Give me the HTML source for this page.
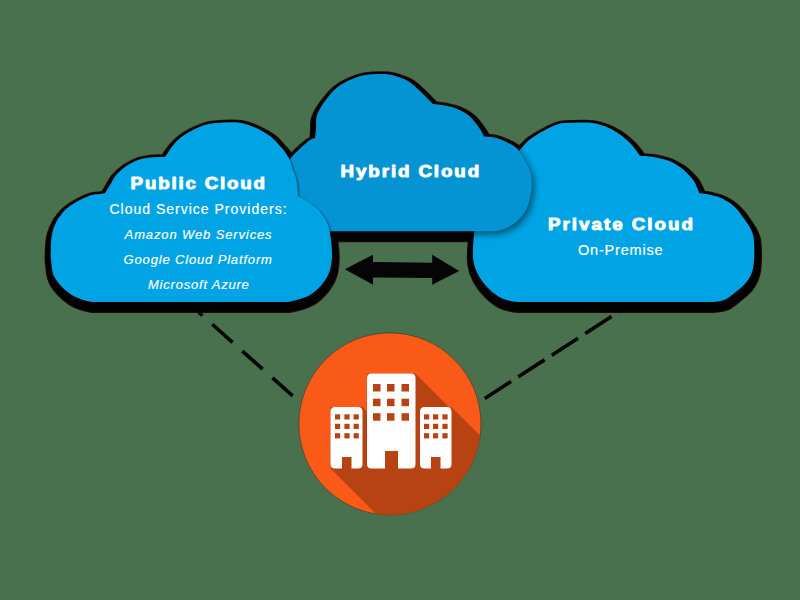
<!DOCTYPE html>
<html><head><meta charset="utf-8"><style>
html,body{margin:0;padding:0;background:#49714e;width:800px;height:600px;overflow:hidden}
svg{display:block}
text{font-family:"Liberation Sans",sans-serif;fill:#fff}
</style></head><body>
<svg width="800" height="600" viewBox="0 0 800 600">
<defs>
<filter id="blur" x="-20%" y="-20%" width="140%" height="140%"><feGaussianBlur stdDeviation="3.5"/></filter>
<filter id="blur2" x="-20%" y="-20%" width="140%" height="140%"><feGaussianBlur stdDeviation="1.2"/></filter>
<clipPath id="clipH"><path d="M300.00 231.00 C297.50 228.33 288.67 221.00 285.00 215.00 C281.33 209.00 278.67 201.67 278.00 195.00 C277.33 188.33 279.08 180.83 281.00 175.00 C282.92 169.17 286.33 164.42 289.50 160.00 C292.67 155.58 296.58 151.83 300.00 148.50 C303.42 145.17 307.50 141.70 310.00 140.00 C312.50 138.30 314.17 138.58 315.00 138.30 C315.17 136.67 315.67 132.38 316.00 128.50 C316.33 124.62 315.50 119.58 317.00 115.00 C318.50 110.42 321.67 105.58 325.00 101.00 C328.33 96.42 332.67 91.08 337.00 87.50 C341.33 83.92 346.33 81.58 351.00 79.50 C355.67 77.42 360.17 75.92 365.00 75.00 C369.83 74.08 375.50 74.00 380.00 74.00 C384.50 74.00 387.33 73.83 392.00 75.00 C396.67 76.17 403.33 78.33 408.00 81.00 C412.67 83.67 416.33 87.67 420.00 91.00 C423.67 94.33 427.83 98.83 430.00 101.00 C432.17 103.17 432.50 103.50 433.00 104.00 C435.00 104.25 440.92 104.67 445.00 105.50 C449.08 106.33 453.33 107.17 457.50 109.00 C461.67 110.83 466.25 113.17 470.00 116.50 C473.75 119.83 477.67 125.67 480.00 129.00 C482.33 132.33 483.33 135.25 484.00 136.50 C485.83 136.67 491.08 136.50 495.00 137.50 C498.92 138.50 503.75 140.58 507.50 142.50 C511.25 144.42 514.58 145.92 517.50 149.00 C520.42 152.08 522.83 157.00 525.00 161.00 C527.17 165.00 529.38 169.00 530.50 173.00 C531.62 177.00 531.78 180.83 531.70 185.00 C531.62 189.17 531.03 193.67 530.00 198.00 C528.97 202.33 528.00 206.83 525.50 211.00 C523.00 215.17 519.25 219.80 515.00 223.00 C510.75 226.20 505.00 228.83 500.00 230.20 C495.00 231.57 490.83 231.03 485.00 231.20 C454.17 231.20 330.83 231.20 300.00 231.20 Z"/></clipPath>
<clipPath id="clipR"><path d="M515.00 159.00 C515.77 157.58 517.20 153.72 519.60 150.50 C522.00 147.28 525.60 142.87 529.40 139.70 C533.20 136.53 537.70 134.08 542.40 131.50 C547.10 128.92 552.55 125.65 557.60 124.20 C562.65 122.75 567.30 123.03 572.70 122.80 C578.10 122.57 585.45 122.47 590.00 122.80 C594.55 123.12 596.67 123.80 600.00 124.75 C603.33 125.70 606.67 126.88 610.00 128.50 C613.33 130.12 616.67 132.08 620.00 134.50 C623.33 136.92 627.50 140.58 630.00 143.00 C632.50 145.42 633.33 146.87 635.00 149.00 C636.67 151.13 639.17 154.67 640.00 155.80 C642.22 156.00 648.42 156.13 653.30 157.00 C658.18 157.87 664.85 159.33 669.30 161.00 C673.75 162.67 677.10 165.05 680.00 167.00 C682.90 168.95 684.48 170.53 686.70 172.70 C688.92 174.87 691.53 177.45 693.30 180.00 C695.07 182.55 696.30 185.78 697.30 188.00 C698.30 190.22 698.97 192.42 699.30 193.30 C700.53 193.42 704.42 193.63 706.70 194.00 C708.98 194.37 710.78 194.92 713.00 195.50 C715.22 196.08 717.17 196.25 720.00 197.50 C722.83 198.75 727.00 200.83 730.00 203.00 C733.00 205.17 735.50 207.67 738.00 210.50 C740.50 213.33 742.92 217.00 745.00 220.00 C747.08 223.00 749.12 225.83 750.50 228.50 C751.88 231.17 752.68 233.25 753.30 236.00 C753.92 238.75 754.05 241.33 754.20 245.00 C754.35 248.67 754.45 253.83 754.20 258.00 C753.95 262.17 753.62 266.50 752.70 270.00 C751.78 273.50 750.27 276.42 748.70 279.00 C747.13 281.58 745.58 283.25 743.30 285.50 C741.02 287.75 738.10 290.12 735.00 292.50 C731.90 294.88 728.53 298.22 724.70 299.80 C720.87 301.38 717.45 301.63 712.00 302.00 C679.67 302.00 550.33 302.00 518.00 302.00 C511.95 301.38 506.65 300.58 501.70 298.30 C496.75 296.02 492.20 292.18 488.30 288.30 C484.40 284.42 480.80 279.72 478.30 275.00 C475.80 270.28 474.10 265.83 473.30 260.00 C472.50 254.17 473.05 245.83 473.50 240.00 C473.95 234.17 474.42 229.50 476.00 225.00 C477.58 220.50 479.33 216.67 483.00 213.00 C486.67 209.33 494.33 205.83 498.00 203.00 C501.67 200.17 503.83 197.17 505.00 196.00 C505.17 195.33 505.50 194.67 506.00 192.00 C506.50 189.33 507.00 184.00 508.00 180.00 C509.00 176.00 510.83 171.50 512.00 168.00 C513.17 164.50 514.50 160.50 515.00 159.00 Z"/></clipPath>
<clipPath id="clipC"><circle cx="389.9" cy="423.9" r="91"/></clipPath>
</defs>
<rect width="800" height="600" fill="#49714e"/>
<!-- dashed lines -->
<g stroke="#040302" stroke-width="3.6" stroke-linecap="butt" fill="none">
<line x1="182.15" y1="297.43" x2="202.40" y2="315.47"/>
<line x1="212.25" y1="324.25" x2="232.50" y2="342.29"/>
<line x1="242.35" y1="351.07" x2="262.60" y2="369.11"/>
<line x1="272.45" y1="377.89" x2="292.70" y2="395.93"/>
<line x1="484.75" y1="398.50" x2="511.05" y2="381.51"/>
<line x1="518.25" y1="376.86" x2="544.55" y2="359.87"/>
<line x1="551.75" y1="355.22" x2="578.05" y2="338.23"/>
<line x1="585.25" y1="333.58" x2="611.55" y2="316.59"/>
<line x1="618.75" y1="311.94" x2="645.05" y2="294.95"/>
</g>
<!-- bands -->
<g fill="#1e0b05" stroke="#1e0b05" stroke-width="13.8" stroke-linejoin="round" transform="translate(0.8 4.1)">
<path d="M515.00 159.00 C515.77 157.58 517.20 153.72 519.60 150.50 C522.00 147.28 525.60 142.87 529.40 139.70 C533.20 136.53 537.70 134.08 542.40 131.50 C547.10 128.92 552.55 125.65 557.60 124.20 C562.65 122.75 567.30 123.03 572.70 122.80 C578.10 122.57 585.45 122.47 590.00 122.80 C594.55 123.12 596.67 123.80 600.00 124.75 C603.33 125.70 606.67 126.88 610.00 128.50 C613.33 130.12 616.67 132.08 620.00 134.50 C623.33 136.92 627.50 140.58 630.00 143.00 C632.50 145.42 633.33 146.87 635.00 149.00 C636.67 151.13 639.17 154.67 640.00 155.80 C642.22 156.00 648.42 156.13 653.30 157.00 C658.18 157.87 664.85 159.33 669.30 161.00 C673.75 162.67 677.10 165.05 680.00 167.00 C682.90 168.95 684.48 170.53 686.70 172.70 C688.92 174.87 691.53 177.45 693.30 180.00 C695.07 182.55 696.30 185.78 697.30 188.00 C698.30 190.22 698.97 192.42 699.30 193.30 C700.53 193.42 704.42 193.63 706.70 194.00 C708.98 194.37 710.78 194.92 713.00 195.50 C715.22 196.08 717.17 196.25 720.00 197.50 C722.83 198.75 727.00 200.83 730.00 203.00 C733.00 205.17 735.50 207.67 738.00 210.50 C740.50 213.33 742.92 217.00 745.00 220.00 C747.08 223.00 749.12 225.83 750.50 228.50 C751.88 231.17 752.68 233.25 753.30 236.00 C753.92 238.75 754.05 241.33 754.20 245.00 C754.35 248.67 754.45 253.83 754.20 258.00 C753.95 262.17 753.62 266.50 752.70 270.00 C751.78 273.50 750.27 276.42 748.70 279.00 C747.13 281.58 745.58 283.25 743.30 285.50 C741.02 287.75 738.10 290.12 735.00 292.50 C731.90 294.88 728.53 298.22 724.70 299.80 C720.87 301.38 717.45 301.63 712.00 302.00 C679.67 302.00 550.33 302.00 518.00 302.00 C511.95 301.38 506.65 300.58 501.70 298.30 C496.75 296.02 492.20 292.18 488.30 288.30 C484.40 284.42 480.80 279.72 478.30 275.00 C475.80 270.28 474.10 265.83 473.30 260.00 C472.50 254.17 473.05 245.83 473.50 240.00 C473.95 234.17 474.42 229.50 476.00 225.00 C477.58 220.50 479.33 216.67 483.00 213.00 C486.67 209.33 494.33 205.83 498.00 203.00 C501.67 200.17 503.83 197.17 505.00 196.00 C505.17 195.33 505.50 194.67 506.00 192.00 C506.50 189.33 507.00 184.00 508.00 180.00 C509.00 176.00 510.83 171.50 512.00 168.00 C513.17 164.50 514.50 160.50 515.00 159.00 Z"/><path d="M300.00 231.00 C297.50 228.33 288.67 221.00 285.00 215.00 C281.33 209.00 278.67 201.67 278.00 195.00 C277.33 188.33 279.08 180.83 281.00 175.00 C282.92 169.17 286.33 164.42 289.50 160.00 C292.67 155.58 296.58 151.83 300.00 148.50 C303.42 145.17 307.50 141.70 310.00 140.00 C312.50 138.30 314.17 138.58 315.00 138.30 C315.17 136.67 315.67 132.38 316.00 128.50 C316.33 124.62 315.50 119.58 317.00 115.00 C318.50 110.42 321.67 105.58 325.00 101.00 C328.33 96.42 332.67 91.08 337.00 87.50 C341.33 83.92 346.33 81.58 351.00 79.50 C355.67 77.42 360.17 75.92 365.00 75.00 C369.83 74.08 375.50 74.00 380.00 74.00 C384.50 74.00 387.33 73.83 392.00 75.00 C396.67 76.17 403.33 78.33 408.00 81.00 C412.67 83.67 416.33 87.67 420.00 91.00 C423.67 94.33 427.83 98.83 430.00 101.00 C432.17 103.17 432.50 103.50 433.00 104.00 C435.00 104.25 440.92 104.67 445.00 105.50 C449.08 106.33 453.33 107.17 457.50 109.00 C461.67 110.83 466.25 113.17 470.00 116.50 C473.75 119.83 477.67 125.67 480.00 129.00 C482.33 132.33 483.33 135.25 484.00 136.50 C485.83 136.67 491.08 136.50 495.00 137.50 C498.92 138.50 503.75 140.58 507.50 142.50 C511.25 144.42 514.58 145.92 517.50 149.00 C520.42 152.08 522.83 157.00 525.00 161.00 C527.17 165.00 529.38 169.00 530.50 173.00 C531.62 177.00 531.78 180.83 531.70 185.00 C531.62 189.17 531.03 193.67 530.00 198.00 C528.97 202.33 528.00 206.83 525.50 211.00 C523.00 215.17 519.25 219.80 515.00 223.00 C510.75 226.20 505.00 228.83 500.00 230.20 C495.00 231.57 490.83 231.03 485.00 231.20 C454.17 231.20 330.83 231.20 300.00 231.20 Z"/><path d="M105.00 193.30 C105.83 191.92 108.20 187.97 110.00 185.00 C111.80 182.03 113.43 178.42 115.80 175.50 C118.17 172.58 121.42 169.67 124.20 167.50 C126.98 165.33 129.87 163.87 132.50 162.50 C135.13 161.13 137.08 160.13 140.00 159.30 C142.92 158.47 146.67 157.88 150.00 157.50 C153.33 157.12 157.50 157.08 160.00 157.00 C162.50 156.92 164.17 157.00 165.00 157.00 C165.83 155.75 168.33 151.83 170.00 149.50 C171.67 147.17 173.00 145.17 175.00 143.00 C177.00 140.83 179.50 138.42 182.00 136.50 C184.50 134.58 187.00 133.12 190.00 131.50 C193.00 129.88 196.67 128.05 200.00 126.75 C203.33 125.45 206.17 124.41 210.00 123.70 C213.83 122.99 218.00 122.65 223.00 122.50 C228.00 122.35 234.67 121.95 240.00 122.80 C245.33 123.65 250.00 125.40 255.00 127.60 C260.00 129.80 266.00 133.10 270.00 136.00 C274.00 138.90 276.50 142.33 279.00 145.00 C281.50 147.67 283.17 149.50 285.00 152.00 C286.83 154.50 289.17 158.67 290.00 160.00 C290.50 161.67 292.00 167.00 293.00 170.00 C294.00 173.00 295.25 175.00 296.00 178.00 C296.75 181.00 297.17 185.00 297.50 188.00 C297.83 191.00 297.92 194.67 298.00 196.00 C299.17 196.67 302.17 198.17 305.00 200.00 C307.83 201.83 312.33 204.83 315.00 207.00 C317.67 209.17 319.00 210.50 321.00 213.00 C323.00 215.50 325.50 218.67 327.00 222.00 C328.50 225.33 329.17 227.83 330.00 233.00 C330.83 238.17 332.00 246.83 332.00 253.00 C332.00 259.17 331.50 265.00 330.00 270.00 C328.50 275.00 326.33 278.83 323.00 283.00 C319.67 287.17 315.83 291.83 310.00 295.00 C304.17 298.17 295.00 300.83 288.00 302.00 C255.33 302.00 124.67 302.00 92.00 302.00 C85.28 300.83 77.87 299.00 71.70 295.00 C65.53 291.00 58.45 283.83 55.00 278.00 C51.55 272.17 51.70 264.67 51.00 260.00 C50.30 255.33 50.77 253.33 50.80 250.00 C50.83 246.67 50.83 243.33 51.20 240.00 C51.57 236.67 51.98 233.33 53.00 230.00 C54.02 226.67 56.05 222.42 57.30 220.00 C58.55 217.58 59.05 217.33 60.50 215.50 C61.95 213.67 63.58 211.13 66.00 209.00 C68.42 206.87 71.00 204.95 75.00 202.70 C79.00 200.45 85.83 196.95 90.00 195.50 C94.17 194.05 97.50 194.37 100.00 194.00 C102.50 193.63 104.17 193.42 105.00 193.30 Z"/>
</g>
<g fill="#030202" stroke="#030202" stroke-width="11.6" stroke-linejoin="round" transform="translate(0.8 4.1)">
<path d="M515.00 159.00 C515.77 157.58 517.20 153.72 519.60 150.50 C522.00 147.28 525.60 142.87 529.40 139.70 C533.20 136.53 537.70 134.08 542.40 131.50 C547.10 128.92 552.55 125.65 557.60 124.20 C562.65 122.75 567.30 123.03 572.70 122.80 C578.10 122.57 585.45 122.47 590.00 122.80 C594.55 123.12 596.67 123.80 600.00 124.75 C603.33 125.70 606.67 126.88 610.00 128.50 C613.33 130.12 616.67 132.08 620.00 134.50 C623.33 136.92 627.50 140.58 630.00 143.00 C632.50 145.42 633.33 146.87 635.00 149.00 C636.67 151.13 639.17 154.67 640.00 155.80 C642.22 156.00 648.42 156.13 653.30 157.00 C658.18 157.87 664.85 159.33 669.30 161.00 C673.75 162.67 677.10 165.05 680.00 167.00 C682.90 168.95 684.48 170.53 686.70 172.70 C688.92 174.87 691.53 177.45 693.30 180.00 C695.07 182.55 696.30 185.78 697.30 188.00 C698.30 190.22 698.97 192.42 699.30 193.30 C700.53 193.42 704.42 193.63 706.70 194.00 C708.98 194.37 710.78 194.92 713.00 195.50 C715.22 196.08 717.17 196.25 720.00 197.50 C722.83 198.75 727.00 200.83 730.00 203.00 C733.00 205.17 735.50 207.67 738.00 210.50 C740.50 213.33 742.92 217.00 745.00 220.00 C747.08 223.00 749.12 225.83 750.50 228.50 C751.88 231.17 752.68 233.25 753.30 236.00 C753.92 238.75 754.05 241.33 754.20 245.00 C754.35 248.67 754.45 253.83 754.20 258.00 C753.95 262.17 753.62 266.50 752.70 270.00 C751.78 273.50 750.27 276.42 748.70 279.00 C747.13 281.58 745.58 283.25 743.30 285.50 C741.02 287.75 738.10 290.12 735.00 292.50 C731.90 294.88 728.53 298.22 724.70 299.80 C720.87 301.38 717.45 301.63 712.00 302.00 C679.67 302.00 550.33 302.00 518.00 302.00 C511.95 301.38 506.65 300.58 501.70 298.30 C496.75 296.02 492.20 292.18 488.30 288.30 C484.40 284.42 480.80 279.72 478.30 275.00 C475.80 270.28 474.10 265.83 473.30 260.00 C472.50 254.17 473.05 245.83 473.50 240.00 C473.95 234.17 474.42 229.50 476.00 225.00 C477.58 220.50 479.33 216.67 483.00 213.00 C486.67 209.33 494.33 205.83 498.00 203.00 C501.67 200.17 503.83 197.17 505.00 196.00 C505.17 195.33 505.50 194.67 506.00 192.00 C506.50 189.33 507.00 184.00 508.00 180.00 C509.00 176.00 510.83 171.50 512.00 168.00 C513.17 164.50 514.50 160.50 515.00 159.00 Z"/><path d="M300.00 231.00 C297.50 228.33 288.67 221.00 285.00 215.00 C281.33 209.00 278.67 201.67 278.00 195.00 C277.33 188.33 279.08 180.83 281.00 175.00 C282.92 169.17 286.33 164.42 289.50 160.00 C292.67 155.58 296.58 151.83 300.00 148.50 C303.42 145.17 307.50 141.70 310.00 140.00 C312.50 138.30 314.17 138.58 315.00 138.30 C315.17 136.67 315.67 132.38 316.00 128.50 C316.33 124.62 315.50 119.58 317.00 115.00 C318.50 110.42 321.67 105.58 325.00 101.00 C328.33 96.42 332.67 91.08 337.00 87.50 C341.33 83.92 346.33 81.58 351.00 79.50 C355.67 77.42 360.17 75.92 365.00 75.00 C369.83 74.08 375.50 74.00 380.00 74.00 C384.50 74.00 387.33 73.83 392.00 75.00 C396.67 76.17 403.33 78.33 408.00 81.00 C412.67 83.67 416.33 87.67 420.00 91.00 C423.67 94.33 427.83 98.83 430.00 101.00 C432.17 103.17 432.50 103.50 433.00 104.00 C435.00 104.25 440.92 104.67 445.00 105.50 C449.08 106.33 453.33 107.17 457.50 109.00 C461.67 110.83 466.25 113.17 470.00 116.50 C473.75 119.83 477.67 125.67 480.00 129.00 C482.33 132.33 483.33 135.25 484.00 136.50 C485.83 136.67 491.08 136.50 495.00 137.50 C498.92 138.50 503.75 140.58 507.50 142.50 C511.25 144.42 514.58 145.92 517.50 149.00 C520.42 152.08 522.83 157.00 525.00 161.00 C527.17 165.00 529.38 169.00 530.50 173.00 C531.62 177.00 531.78 180.83 531.70 185.00 C531.62 189.17 531.03 193.67 530.00 198.00 C528.97 202.33 528.00 206.83 525.50 211.00 C523.00 215.17 519.25 219.80 515.00 223.00 C510.75 226.20 505.00 228.83 500.00 230.20 C495.00 231.57 490.83 231.03 485.00 231.20 C454.17 231.20 330.83 231.20 300.00 231.20 Z"/><path d="M105.00 193.30 C105.83 191.92 108.20 187.97 110.00 185.00 C111.80 182.03 113.43 178.42 115.80 175.50 C118.17 172.58 121.42 169.67 124.20 167.50 C126.98 165.33 129.87 163.87 132.50 162.50 C135.13 161.13 137.08 160.13 140.00 159.30 C142.92 158.47 146.67 157.88 150.00 157.50 C153.33 157.12 157.50 157.08 160.00 157.00 C162.50 156.92 164.17 157.00 165.00 157.00 C165.83 155.75 168.33 151.83 170.00 149.50 C171.67 147.17 173.00 145.17 175.00 143.00 C177.00 140.83 179.50 138.42 182.00 136.50 C184.50 134.58 187.00 133.12 190.00 131.50 C193.00 129.88 196.67 128.05 200.00 126.75 C203.33 125.45 206.17 124.41 210.00 123.70 C213.83 122.99 218.00 122.65 223.00 122.50 C228.00 122.35 234.67 121.95 240.00 122.80 C245.33 123.65 250.00 125.40 255.00 127.60 C260.00 129.80 266.00 133.10 270.00 136.00 C274.00 138.90 276.50 142.33 279.00 145.00 C281.50 147.67 283.17 149.50 285.00 152.00 C286.83 154.50 289.17 158.67 290.00 160.00 C290.50 161.67 292.00 167.00 293.00 170.00 C294.00 173.00 295.25 175.00 296.00 178.00 C296.75 181.00 297.17 185.00 297.50 188.00 C297.83 191.00 297.92 194.67 298.00 196.00 C299.17 196.67 302.17 198.17 305.00 200.00 C307.83 201.83 312.33 204.83 315.00 207.00 C317.67 209.17 319.00 210.50 321.00 213.00 C323.00 215.50 325.50 218.67 327.00 222.00 C328.50 225.33 329.17 227.83 330.00 233.00 C330.83 238.17 332.00 246.83 332.00 253.00 C332.00 259.17 331.50 265.00 330.00 270.00 C328.50 275.00 326.33 278.83 323.00 283.00 C319.67 287.17 315.83 291.83 310.00 295.00 C304.17 298.17 295.00 300.83 288.00 302.00 C255.33 302.00 124.67 302.00 92.00 302.00 C85.28 300.83 77.87 299.00 71.70 295.00 C65.53 291.00 58.45 283.83 55.00 278.00 C51.55 272.17 51.70 264.67 51.00 260.00 C50.30 255.33 50.77 253.33 50.80 250.00 C50.83 246.67 50.83 243.33 51.20 240.00 C51.57 236.67 51.98 233.33 53.00 230.00 C54.02 226.67 56.05 222.42 57.30 220.00 C58.55 217.58 59.05 217.33 60.50 215.50 C61.95 213.67 63.58 211.13 66.00 209.00 C68.42 206.87 71.00 204.95 75.00 202.70 C79.00 200.45 85.83 196.95 90.00 195.50 C94.17 194.05 97.50 194.37 100.00 194.00 C102.50 193.63 104.17 193.42 105.00 193.30 Z"/>
</g>
<!-- right cloud -->
<path d="M515.00 159.00 C515.77 157.58 517.20 153.72 519.60 150.50 C522.00 147.28 525.60 142.87 529.40 139.70 C533.20 136.53 537.70 134.08 542.40 131.50 C547.10 128.92 552.55 125.65 557.60 124.20 C562.65 122.75 567.30 123.03 572.70 122.80 C578.10 122.57 585.45 122.47 590.00 122.80 C594.55 123.12 596.67 123.80 600.00 124.75 C603.33 125.70 606.67 126.88 610.00 128.50 C613.33 130.12 616.67 132.08 620.00 134.50 C623.33 136.92 627.50 140.58 630.00 143.00 C632.50 145.42 633.33 146.87 635.00 149.00 C636.67 151.13 639.17 154.67 640.00 155.80 C642.22 156.00 648.42 156.13 653.30 157.00 C658.18 157.87 664.85 159.33 669.30 161.00 C673.75 162.67 677.10 165.05 680.00 167.00 C682.90 168.95 684.48 170.53 686.70 172.70 C688.92 174.87 691.53 177.45 693.30 180.00 C695.07 182.55 696.30 185.78 697.30 188.00 C698.30 190.22 698.97 192.42 699.30 193.30 C700.53 193.42 704.42 193.63 706.70 194.00 C708.98 194.37 710.78 194.92 713.00 195.50 C715.22 196.08 717.17 196.25 720.00 197.50 C722.83 198.75 727.00 200.83 730.00 203.00 C733.00 205.17 735.50 207.67 738.00 210.50 C740.50 213.33 742.92 217.00 745.00 220.00 C747.08 223.00 749.12 225.83 750.50 228.50 C751.88 231.17 752.68 233.25 753.30 236.00 C753.92 238.75 754.05 241.33 754.20 245.00 C754.35 248.67 754.45 253.83 754.20 258.00 C753.95 262.17 753.62 266.50 752.70 270.00 C751.78 273.50 750.27 276.42 748.70 279.00 C747.13 281.58 745.58 283.25 743.30 285.50 C741.02 287.75 738.10 290.12 735.00 292.50 C731.90 294.88 728.53 298.22 724.70 299.80 C720.87 301.38 717.45 301.63 712.00 302.00 C679.67 302.00 550.33 302.00 518.00 302.00 C511.95 301.38 506.65 300.58 501.70 298.30 C496.75 296.02 492.20 292.18 488.30 288.30 C484.40 284.42 480.80 279.72 478.30 275.00 C475.80 270.28 474.10 265.83 473.30 260.00 C472.50 254.17 473.05 245.83 473.50 240.00 C473.95 234.17 474.42 229.50 476.00 225.00 C477.58 220.50 479.33 216.67 483.00 213.00 C486.67 209.33 494.33 205.83 498.00 203.00 C501.67 200.17 503.83 197.17 505.00 196.00 C505.17 195.33 505.50 194.67 506.00 192.00 C506.50 189.33 507.00 184.00 508.00 180.00 C509.00 176.00 510.83 171.50 512.00 168.00 C513.17 164.50 514.50 160.50 515.00 159.00 Z" fill="#00a4e5"/>
<!-- hybrid soft shadow on right cloud -->
<g clip-path="url(#clipR)"><path d="M300.00 231.00 C297.50 228.33 288.67 221.00 285.00 215.00 C281.33 209.00 278.67 201.67 278.00 195.00 C277.33 188.33 279.08 180.83 281.00 175.00 C282.92 169.17 286.33 164.42 289.50 160.00 C292.67 155.58 296.58 151.83 300.00 148.50 C303.42 145.17 307.50 141.70 310.00 140.00 C312.50 138.30 314.17 138.58 315.00 138.30 C315.17 136.67 315.67 132.38 316.00 128.50 C316.33 124.62 315.50 119.58 317.00 115.00 C318.50 110.42 321.67 105.58 325.00 101.00 C328.33 96.42 332.67 91.08 337.00 87.50 C341.33 83.92 346.33 81.58 351.00 79.50 C355.67 77.42 360.17 75.92 365.00 75.00 C369.83 74.08 375.50 74.00 380.00 74.00 C384.50 74.00 387.33 73.83 392.00 75.00 C396.67 76.17 403.33 78.33 408.00 81.00 C412.67 83.67 416.33 87.67 420.00 91.00 C423.67 94.33 427.83 98.83 430.00 101.00 C432.17 103.17 432.50 103.50 433.00 104.00 C435.00 104.25 440.92 104.67 445.00 105.50 C449.08 106.33 453.33 107.17 457.50 109.00 C461.67 110.83 466.25 113.17 470.00 116.50 C473.75 119.83 477.67 125.67 480.00 129.00 C482.33 132.33 483.33 135.25 484.00 136.50 C485.83 136.67 491.08 136.50 495.00 137.50 C498.92 138.50 503.75 140.58 507.50 142.50 C511.25 144.42 514.58 145.92 517.50 149.00 C520.42 152.08 522.83 157.00 525.00 161.00 C527.17 165.00 529.38 169.00 530.50 173.00 C531.62 177.00 531.78 180.83 531.70 185.00 C531.62 189.17 531.03 193.67 530.00 198.00 C528.97 202.33 528.00 206.83 525.50 211.00 C523.00 215.17 519.25 219.80 515.00 223.00 C510.75 226.20 505.00 228.83 500.00 230.20 C495.00 231.57 490.83 231.03 485.00 231.20 C454.17 231.20 330.83 231.20 300.00 231.20 Z" fill="#000" opacity="0.5" filter="url(#blur)" transform="translate(2.5 3)"/></g>
<path d="M300.00 231.00 C297.50 228.33 288.67 221.00 285.00 215.00 C281.33 209.00 278.67 201.67 278.00 195.00 C277.33 188.33 279.08 180.83 281.00 175.00 C282.92 169.17 286.33 164.42 289.50 160.00 C292.67 155.58 296.58 151.83 300.00 148.50 C303.42 145.17 307.50 141.70 310.00 140.00 C312.50 138.30 314.17 138.58 315.00 138.30 C315.17 136.67 315.67 132.38 316.00 128.50 C316.33 124.62 315.50 119.58 317.00 115.00 C318.50 110.42 321.67 105.58 325.00 101.00 C328.33 96.42 332.67 91.08 337.00 87.50 C341.33 83.92 346.33 81.58 351.00 79.50 C355.67 77.42 360.17 75.92 365.00 75.00 C369.83 74.08 375.50 74.00 380.00 74.00 C384.50 74.00 387.33 73.83 392.00 75.00 C396.67 76.17 403.33 78.33 408.00 81.00 C412.67 83.67 416.33 87.67 420.00 91.00 C423.67 94.33 427.83 98.83 430.00 101.00 C432.17 103.17 432.50 103.50 433.00 104.00 C435.00 104.25 440.92 104.67 445.00 105.50 C449.08 106.33 453.33 107.17 457.50 109.00 C461.67 110.83 466.25 113.17 470.00 116.50 C473.75 119.83 477.67 125.67 480.00 129.00 C482.33 132.33 483.33 135.25 484.00 136.50 C485.83 136.67 491.08 136.50 495.00 137.50 C498.92 138.50 503.75 140.58 507.50 142.50 C511.25 144.42 514.58 145.92 517.50 149.00 C520.42 152.08 522.83 157.00 525.00 161.00 C527.17 165.00 529.38 169.00 530.50 173.00 C531.62 177.00 531.78 180.83 531.70 185.00 C531.62 189.17 531.03 193.67 530.00 198.00 C528.97 202.33 528.00 206.83 525.50 211.00 C523.00 215.17 519.25 219.80 515.00 223.00 C510.75 226.20 505.00 228.83 500.00 230.20 C495.00 231.57 490.83 231.03 485.00 231.20 C454.17 231.20 330.83 231.20 300.00 231.20 Z" fill="#0594d3"/>
<g clip-path="url(#clipH)"><path d="M105.00 193.30 C105.83 191.92 108.20 187.97 110.00 185.00 C111.80 182.03 113.43 178.42 115.80 175.50 C118.17 172.58 121.42 169.67 124.20 167.50 C126.98 165.33 129.87 163.87 132.50 162.50 C135.13 161.13 137.08 160.13 140.00 159.30 C142.92 158.47 146.67 157.88 150.00 157.50 C153.33 157.12 157.50 157.08 160.00 157.00 C162.50 156.92 164.17 157.00 165.00 157.00 C165.83 155.75 168.33 151.83 170.00 149.50 C171.67 147.17 173.00 145.17 175.00 143.00 C177.00 140.83 179.50 138.42 182.00 136.50 C184.50 134.58 187.00 133.12 190.00 131.50 C193.00 129.88 196.67 128.05 200.00 126.75 C203.33 125.45 206.17 124.41 210.00 123.70 C213.83 122.99 218.00 122.65 223.00 122.50 C228.00 122.35 234.67 121.95 240.00 122.80 C245.33 123.65 250.00 125.40 255.00 127.60 C260.00 129.80 266.00 133.10 270.00 136.00 C274.00 138.90 276.50 142.33 279.00 145.00 C281.50 147.67 283.17 149.50 285.00 152.00 C286.83 154.50 289.17 158.67 290.00 160.00 C290.50 161.67 292.00 167.00 293.00 170.00 C294.00 173.00 295.25 175.00 296.00 178.00 C296.75 181.00 297.17 185.00 297.50 188.00 C297.83 191.00 297.92 194.67 298.00 196.00 C299.17 196.67 302.17 198.17 305.00 200.00 C307.83 201.83 312.33 204.83 315.00 207.00 C317.67 209.17 319.00 210.50 321.00 213.00 C323.00 215.50 325.50 218.67 327.00 222.00 C328.50 225.33 329.17 227.83 330.00 233.00 C330.83 238.17 332.00 246.83 332.00 253.00 C332.00 259.17 331.50 265.00 330.00 270.00 C328.50 275.00 326.33 278.83 323.00 283.00 C319.67 287.17 315.83 291.83 310.00 295.00 C304.17 298.17 295.00 300.83 288.00 302.00 C255.33 302.00 124.67 302.00 92.00 302.00 C85.28 300.83 77.87 299.00 71.70 295.00 C65.53 291.00 58.45 283.83 55.00 278.00 C51.55 272.17 51.70 264.67 51.00 260.00 C50.30 255.33 50.77 253.33 50.80 250.00 C50.83 246.67 50.83 243.33 51.20 240.00 C51.57 236.67 51.98 233.33 53.00 230.00 C54.02 226.67 56.05 222.42 57.30 220.00 C58.55 217.58 59.05 217.33 60.50 215.50 C61.95 213.67 63.58 211.13 66.00 209.00 C68.42 206.87 71.00 204.95 75.00 202.70 C79.00 200.45 85.83 196.95 90.00 195.50 C94.17 194.05 97.50 194.37 100.00 194.00 C102.50 193.63 104.17 193.42 105.00 193.30 Z" fill="#000" opacity="0.55" filter="url(#blur2)" transform="translate(1.2 1.2)"/></g>
<path d="M105.00 193.30 C105.83 191.92 108.20 187.97 110.00 185.00 C111.80 182.03 113.43 178.42 115.80 175.50 C118.17 172.58 121.42 169.67 124.20 167.50 C126.98 165.33 129.87 163.87 132.50 162.50 C135.13 161.13 137.08 160.13 140.00 159.30 C142.92 158.47 146.67 157.88 150.00 157.50 C153.33 157.12 157.50 157.08 160.00 157.00 C162.50 156.92 164.17 157.00 165.00 157.00 C165.83 155.75 168.33 151.83 170.00 149.50 C171.67 147.17 173.00 145.17 175.00 143.00 C177.00 140.83 179.50 138.42 182.00 136.50 C184.50 134.58 187.00 133.12 190.00 131.50 C193.00 129.88 196.67 128.05 200.00 126.75 C203.33 125.45 206.17 124.41 210.00 123.70 C213.83 122.99 218.00 122.65 223.00 122.50 C228.00 122.35 234.67 121.95 240.00 122.80 C245.33 123.65 250.00 125.40 255.00 127.60 C260.00 129.80 266.00 133.10 270.00 136.00 C274.00 138.90 276.50 142.33 279.00 145.00 C281.50 147.67 283.17 149.50 285.00 152.00 C286.83 154.50 289.17 158.67 290.00 160.00 C290.50 161.67 292.00 167.00 293.00 170.00 C294.00 173.00 295.25 175.00 296.00 178.00 C296.75 181.00 297.17 185.00 297.50 188.00 C297.83 191.00 297.92 194.67 298.00 196.00 C299.17 196.67 302.17 198.17 305.00 200.00 C307.83 201.83 312.33 204.83 315.00 207.00 C317.67 209.17 319.00 210.50 321.00 213.00 C323.00 215.50 325.50 218.67 327.00 222.00 C328.50 225.33 329.17 227.83 330.00 233.00 C330.83 238.17 332.00 246.83 332.00 253.00 C332.00 259.17 331.50 265.00 330.00 270.00 C328.50 275.00 326.33 278.83 323.00 283.00 C319.67 287.17 315.83 291.83 310.00 295.00 C304.17 298.17 295.00 300.83 288.00 302.00 C255.33 302.00 124.67 302.00 92.00 302.00 C85.28 300.83 77.87 299.00 71.70 295.00 C65.53 291.00 58.45 283.83 55.00 278.00 C51.55 272.17 51.70 264.67 51.00 260.00 C50.30 255.33 50.77 253.33 50.80 250.00 C50.83 246.67 50.83 243.33 51.20 240.00 C51.57 236.67 51.98 233.33 53.00 230.00 C54.02 226.67 56.05 222.42 57.30 220.00 C58.55 217.58 59.05 217.33 60.50 215.50 C61.95 213.67 63.58 211.13 66.00 209.00 C68.42 206.87 71.00 204.95 75.00 202.70 C79.00 200.45 85.83 196.95 90.00 195.50 C94.17 194.05 97.50 194.37 100.00 194.00 C102.50 193.63 104.17 193.42 105.00 193.30 Z" fill="#00a4e5"/>
<!-- arrow -->
<path d="M344.8 269.3 L373 254.8 L373 262 L432.2 262.8 L432.2 254.8 L459.2 271 L432.2 284.8 L432.2 278 L373 277.4 L373 284.8 Z" fill="#050505"/>
<text transform="translate(130.6 188.5) scale(1.18 1)" font-weight="bold" font-style="normal" font-size="15.9" letter-spacing="1.525" stroke="#fff" stroke-width="0.9" stroke-linejoin="round">Public Cloud</text>
<text transform="translate(109.4 213.7) scale(1 1)" font-weight="normal" font-style="normal" font-size="14" letter-spacing="1.004" stroke="#fff" stroke-width="0.18" stroke-linejoin="round">Cloud Service Providers:</text>
<text transform="translate(124.6 238.5) scale(1 1)" font-weight="normal" font-style="italic" font-size="13" letter-spacing="0.875" stroke="#fff" stroke-width="0.18" stroke-linejoin="round">Amazon Web Services</text>
<text transform="translate(123.6 264.1) scale(1 1)" font-weight="normal" font-style="italic" font-size="13" letter-spacing="0.84" stroke="#fff" stroke-width="0.18" stroke-linejoin="round">Google Cloud Platform</text>
<text transform="translate(148.0 288.6) scale(1 1)" font-weight="normal" font-style="italic" font-size="13" letter-spacing="0.787" stroke="#fff" stroke-width="0.18" stroke-linejoin="round">Microsoft Azure</text>
<text transform="translate(340.6 177.4) scale(1.18 1)" font-weight="bold" font-style="normal" font-size="15.9" letter-spacing="1.606" stroke="#fff" stroke-width="0.9" stroke-linejoin="round">Hybrid Cloud</text>
<text transform="translate(548.0 229.8) scale(1.18 1)" font-weight="bold" font-style="normal" font-size="15.9" letter-spacing="1.703" stroke="#fff" stroke-width="0.9" stroke-linejoin="round">Private Cloud</text>
<text transform="translate(578.0 255) scale(1 1)" font-weight="normal" font-style="normal" font-size="14.5" letter-spacing="0.807" stroke="#fff" stroke-width="0.18" stroke-linejoin="round">On-Premise</text>

<!-- circle -->
<circle cx="389.9" cy="423.9" r="91" fill="#fa5a17" stroke="#111" stroke-width="0.8" stroke-opacity="0.45"/>
<g clip-path="url(#clipC)"><path d="M330.5 468.5 L330.5 407 L362.5 407 L562.5 607 L530.5 668.5 Z M367 468.5 L367 373.5 L415.5 373.5 L615.5 573.5 L567 668.5 Z M420 468.5 L420 407 L451.5 407 L651.5 607 L620 668.5 Z" fill="#b84312"/></g>
<g fill="#fff"><path d="M335.0 407 H358.0 Q362.5 407 362.5 411.5 V464.0 Q362.5 468.5 358.0 468.5 H351.5 V457 H342 V468.5 H335.0 Q330.5 468.5 330.5 464.0 V411.5 Q330.5 407 335.0 407 Z"/><path d="M371.5 373.5 H411.0 Q415.5 373.5 415.5 378.0 V464.0 Q415.5 468.5 411.0 468.5 H398 V451 H385 V468.5 H371.5 Q367 468.5 367 464.0 V378.0 Q367 373.5 371.5 373.5 Z"/><path d="M424.5 407 H447.0 Q451.5 407 451.5 411.5 V464.0 Q451.5 468.5 447.0 468.5 H440.5 V457 H431 V468.5 H424.5 Q420 468.5 420 464.0 V411.5 Q420 407 424.5 407 Z"/></g>
<g fill="#b84312"><rect x="373" y="384" width="7.5" height="7.5"/><rect x="373" y="398.7" width="7.5" height="7.5"/><rect x="373" y="413.2" width="7.5" height="7.5"/><rect x="387" y="384" width="7.5" height="7.5"/><rect x="387" y="398.7" width="7.5" height="7.5"/><rect x="387" y="413.2" width="7.5" height="7.5"/><rect x="401.5" y="384" width="7.5" height="7.5"/><rect x="401.5" y="398.7" width="7.5" height="7.5"/><rect x="401.5" y="413.2" width="7.5" height="7.5"/><rect x="335" y="414.3" width="5.2" height="5.2"/><rect x="335" y="423.8" width="5.2" height="5.2"/><rect x="335" y="433.2" width="5.2" height="5.2"/><rect x="344.4" y="414.3" width="5.2" height="5.2"/><rect x="344.4" y="423.8" width="5.2" height="5.2"/><rect x="344.4" y="433.2" width="5.2" height="5.2"/><rect x="353.6" y="414.3" width="5.2" height="5.2"/><rect x="353.6" y="423.8" width="5.2" height="5.2"/><rect x="353.6" y="433.2" width="5.2" height="5.2"/><rect x="424" y="414.3" width="5.2" height="5.2"/><rect x="424" y="423.8" width="5.2" height="5.2"/><rect x="424" y="433.2" width="5.2" height="5.2"/><rect x="433" y="414.3" width="5.2" height="5.2"/><rect x="433" y="423.8" width="5.2" height="5.2"/><rect x="433" y="433.2" width="5.2" height="5.2"/><rect x="442.4" y="414.3" width="5.2" height="5.2"/><rect x="442.4" y="423.8" width="5.2" height="5.2"/><rect x="442.4" y="433.2" width="5.2" height="5.2"/></g>
</svg>
</body></html>
